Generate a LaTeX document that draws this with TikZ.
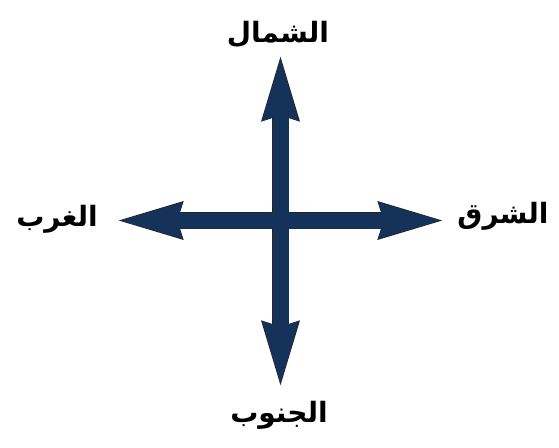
\documentclass[tikz,border=0pt]{standalone}
\usepackage{fontspec}
\newfontfamily\arabicfont[Script=Arabic]{DejaVu Sans}
\TeXXeTstate=1
\usetikzlibrary{arrows.meta,positioning,calc}
\definecolor{navy}{HTML}{15335A}

\begin{document}
\begin{tikzpicture}[
  x=1pt, y=-1pt,
  lbl/.style={font=\arabicfont\bfseries\fontsize{28}{32}\selectfont, inner sep=0pt, text=black},
  rim/.style={line width=17.5pt, black!85, {Stealth[length=67pt, width=32pt, inset=2pt]}-{Stealth[length=67pt, width=32pt, inset=2pt]}},
  dirarr/.style={line width=16pt, navy, {Stealth[length=65pt, width=29.5pt, inset=2pt]}-{Stealth[length=65pt, width=29.5pt, inset=2pt]}}
]
  \useasboundingbox (0,0) rectangle (559,447);
  % arrow tips
  \coordinate (ntip) at (280.5,50);
  \coordinate (stip) at (280.5,392);
  \coordinate (wtip) at (112,220.5);
  \coordinate (etip) at (449,220.5);
  % labels
  \node[lbl] (north) at (278,34) {\beginR الشمال\endR};
  \node[lbl] (south) at (279,415) {\beginR الجنوب\endR};
  \node[lbl] (west) at (57,219) {\beginR الغرب\endR};
  \node[lbl] (east) at (503,216) {\beginR الشرق\endR};
  % arrows
  \draw[rim] (stip) -- (ntip);
  \draw[rim] (wtip) -- (etip);
  \draw[dirarr] ($(stip)!1.2pt!(ntip)$) -- ($(ntip)!1.2pt!(stip)$);
  \draw[dirarr] ($(wtip)!1.2pt!(etip)$) -- ($(etip)!1.2pt!(wtip)$);
\end{tikzpicture}
\end{document}
